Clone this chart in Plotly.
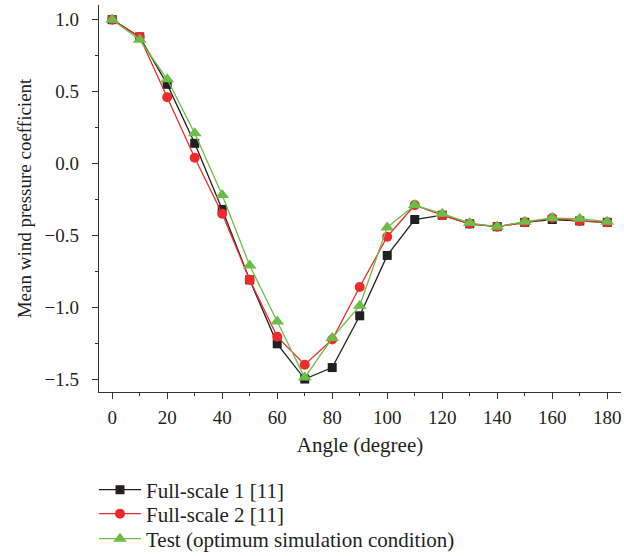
import plotly.graph_objects as go

angles = [0, 10, 20, 30, 40, 50, 60, 70, 80, 90, 100, 110, 120, 130, 140, 150, 160, 170, 180]
full_scale_1 = [1.0, 0.88, 0.55, 0.14, -0.32, -0.81, -1.255, -1.50, -1.42, -1.06, -0.64, -0.39, -0.36, -0.42, -0.44, -0.41, -0.39, -0.40, -0.41]
full_scale_2 = [1.0, 0.88, 0.46, 0.04, -0.35, -0.81, -1.205, -1.40, -1.225, -0.86, -0.51, -0.29, -0.36, -0.42, -0.44, -0.41, -0.38, -0.40, -0.41]
test_opt = [1.0, 0.86, 0.585, 0.21, -0.22, -0.71, -1.10, -1.49, -1.215, -0.99, -0.445, -0.29, -0.35, -0.415, -0.44, -0.405, -0.38, -0.385, -0.405]

names = ["Full-scale 1 [11]", "Full-scale 2 [11]", "Test (optimum simulation condition)"]
series = [full_scale_1, full_scale_2, test_opt]
colors = ["#231f20", "#ee2b2b", "#6cbd45"]
symbols = ["square", "circle", "triangle-up"]
sizes = [9, 10, 12]
legend_ids = ["legend", "legend2", "legend3"]

FONT = "Liberation Serif"
W, H = 624, 556

fig = go.Figure()
for n, s, c, sym, sz, lg in zip(names, series, colors, symbols, sizes, legend_ids):
    fig.add_trace(go.Scatter(
        x=angles, y=s, name=n, mode="lines+markers", legend=lg,
        line=dict(color=c, width=1.3),
        marker=dict(symbol=sym, size=sz, color=c, line=dict(width=0)),
    ))

axis_common = dict(
    showline=True, linecolor="#333333", linewidth=1.3,
    ticks="outside", ticklen=6, tickwidth=1.3, tickcolor="#333333",
    showgrid=False, zeroline=False, mirror=False,
    tickfont=dict(family=FONT, size=19, color="#231f20"),
)

fig.update_xaxes(
    range=[-4.8, 185], tickmode="array", tickvals=list(range(0, 181, 20)),
    minor=dict(ticks="outside", ticklen=3, tickwidth=1.3, tickcolor="#333333", dtick=10, tick0=0, showgrid=False),
    title=dict(text="Angle (degree)", font=dict(family=FONT, size=21, color="#231f20"), standoff=10),
    ticklabelstandoff=2,
    **axis_common,
)
fig.update_yaxes(
    range=[-1.59, 1.102], tickmode="array", tickvals=[-1.5, -1.0, -0.5, 0.0, 0.5, 1.0],
    ticktext=["\u22121.5", "\u22121.0", "\u22120.5", "0.0", "0.5", "1.0"],
    minor=dict(ticks="outside", ticklen=3, tickwidth=1.3, tickcolor="#333333", dtick=0.25, tick0=0, showgrid=False),
    title=dict(text="Mean wind pressure coefficient", font=dict(family=FONT, size=19, color="#231f20"), standoff=7),
    ticklabelstandoff=9,
    **axis_common,
)

rows_y = [490, 514, 539]
legend_layout = {}
for lg, ry in zip(legend_ids, rows_y):
    legend_layout[lg] = dict(
        x=-5 / 522, xanchor="left", xref="paper",
        y=1 - ry / H, yanchor="middle", yref="container",
        font=dict(family=FONT, size=21, color="#231f20"),
        bgcolor="rgba(0,0,0,0)", itemwidth=42,
    )

fig.update_layout(
    width=W, height=H,
    margin=dict(l=99, r=3, t=5, b=164),
    plot_bgcolor="white", paper_bgcolor="white",
    showlegend=True,
    **legend_layout,
)

fig.write_html("out.html")
